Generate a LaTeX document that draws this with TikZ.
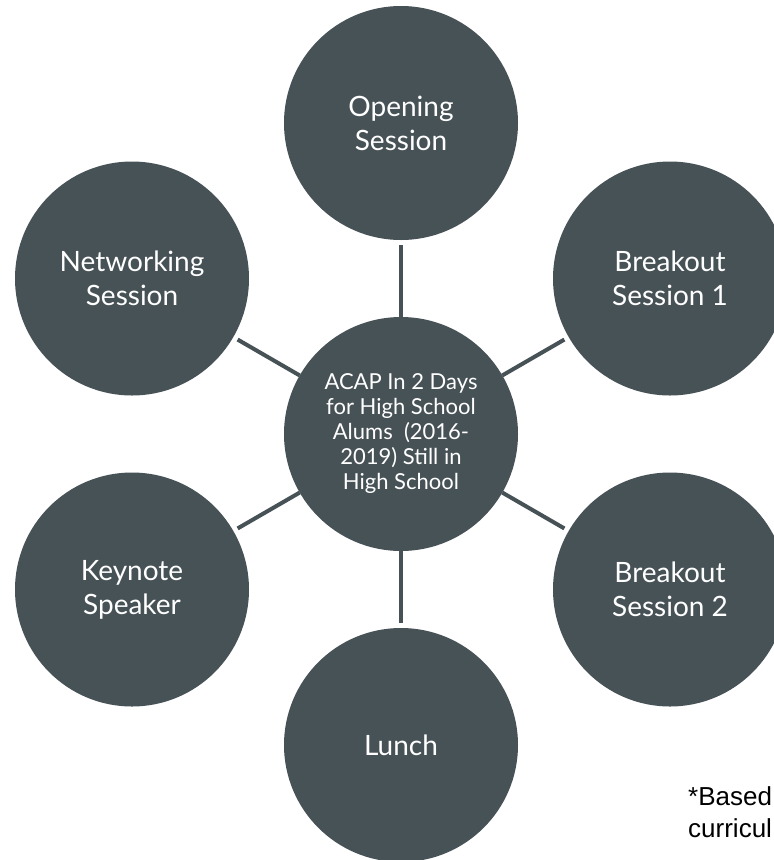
\documentclass[tikz,border=0pt]{standalone}
\usepackage{fontspec}
\setmainfont{Lato}
\newfontfamily\arialfont{Liberation Sans}
\definecolor{slate}{HTML}{475257}
\begin{document}
\begin{tikzpicture}[x=1pt,y=-1pt,
  bub/.style={circle, fill=slate, minimum size=234pt, inner sep=0pt, outer sep=0pt,
    text=white, align=center, font=\fontsize{28}{34}\selectfont},
  hub/.style={bub, font=\fontsize{22}{25}\selectfont},
  link/.style={draw=slate, line width=4pt, shorten >=5pt},
  note/.style={anchor=base west, inner sep=0pt, font=\arialfont\fontsize{26}{30}\selectfont}]
\clip (0,0) rectangle (774,860);
\fill[white] (0,0) rectangle (774,860);
\node[hub] (c) at (401,434) {ACAP In 2 Days\\for High School\\Alums\ \ (2016-\\2019) Still in\\High School};
\node[bub] (open) at (401,123) {Opening\\Session};
\node[bub] (net) at (132,278.5) {Networking\\Session};
\node[bub] (b1) at (670,278.5) {Breakout\\Session 1};
\node[bub] (key) at (132,589.5) {Keynote\\Speaker};
\node[bub] (b2) at (670,589.5) {Breakout\\Session 2};
\node[bub] (lunch) at (401,745) {Lunch};
\foreach \t in {open,net,b1,key,b2,lunch}{\draw[link] (c) -- (\t);}
\node[note] (n1) at (688,805) {*Based};
\node[note] (n2) at (688,837) {curricul};
\end{tikzpicture}
\end{document}
